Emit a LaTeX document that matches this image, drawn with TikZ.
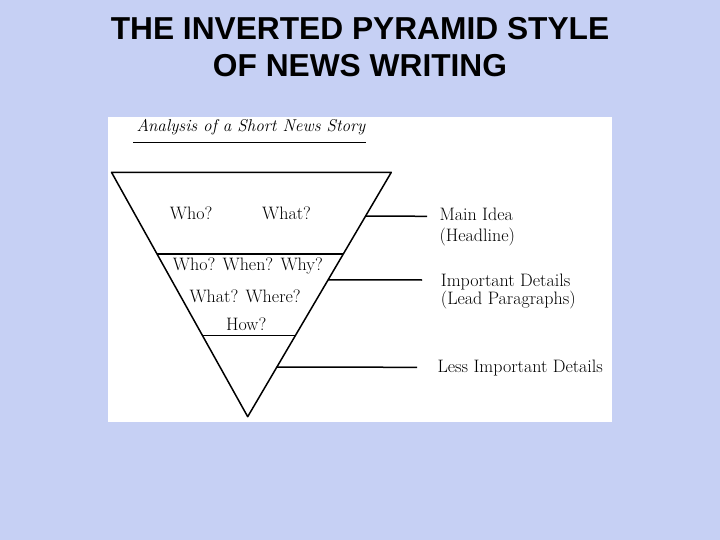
\documentclass[tikz,border=0pt]{standalone}
\usepackage{fontspec}
\usetikzlibrary{calc}
\newfontfamily\titlefont{Liberation Sans}
\definecolor{bgblue}{RGB}{198,208,244}
\tikzset{
  lbl/.style={anchor=base west, inner sep=0pt, font=\fontsize{18}{22}\selectfont},
  ttl/.style={anchor=base, inner sep=0pt, font=\titlefont\bfseries\fontsize{31.7}{38}\selectfont},
  edge/.style={line width=1.5pt, line join=round},
  conn/.style={line width=1.5pt}
}
\begin{document}
\begin{tikzpicture}[x=1pt,y=-1pt]
\useasboundingbox (0,0) rectangle (720,540);
\fill[bgblue] (0,0) rectangle (720,540);
\fill[white] (108,117) rectangle (612,422);
% title
\node[ttl] (t1) at (360,40) {THE INVERTED PYRAMID STYLE};
\node[ttl] (t2) at (360,76.7) {OF NEWS WRITING};
% heading
\node[lbl, font=\itshape\fontsize{17.1}{20}\selectfont] (head) at (136.3,131.7) {Analysis of a Short News Story};
\coordinate (u1) at (133,142.3);
\coordinate (u2) at (366,142.3);
\draw[conn] (u1) -- (u2);
% pyramid
\coordinate (tl) at (111.5,172.3);
\coordinate (tr) at (391.3,172.3);
\coordinate (ap) at (247.7,416.7);
\draw[edge] (tl) -- (tr) -- (ap) -- cycle;
\coordinate (l1a) at ($(tl)!0.335!(ap)$);
\coordinate (l1b) at ($(tr)!0.335!(ap)$);
\draw[edge] (l1a) -- (l1b);
\coordinate (l2a) at ($(tl)!0.667!(ap)$);
\coordinate (l2b) at ($(tr)!0.667!(ap)$);
\draw[edge] (l2a) -- (l2b);
% connectors
\coordinate (c1s) at ($(tr)!0.179!(ap)$);
\coordinate (c1e) at (427,216.3);
\coordinate (c2s) at ($(tr)!0.440!(ap)$);
\coordinate (c2e) at (422,280);
\coordinate (c3s) at ($(tr)!0.797!(ap)$);
\coordinate (c3e) at (417,367.3);
\draw[conn] (c1s) -- (c1e);
\draw[conn] (c2s) -- (c2e);
\draw[conn] (c3s) -- (c3e);
% inside labels
\node[lbl] (who1) at (169.7,219) {Who?};
\node[lbl] (what1) at (262,219) {What?};
\node[lbl] (w3) at (172.7,270) {Who? When? Why?};
\node[lbl] (w2) at (189.3,302) {What? Where?};
\node[lbl] (how) at (226,330) {How?};
% right labels
\node[lbl] (main) at (439.3,221) {Main Idea};
\node[lbl] (headl) at (439.3,241.5) {(Headline)};
\node[lbl] (imp) at (440.7,286) {Important Details};
\node[lbl] (lead) at (440.7,304.5) {(Lead Paragraphs)};
\node[lbl] (less) at (437.3,372) {Less Important Details};
\end{tikzpicture}
\end{document}
